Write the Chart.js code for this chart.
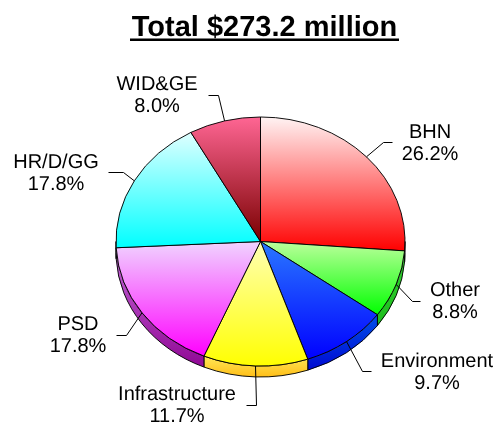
<!DOCTYPE html>
<html>
<head>
<meta charset="utf-8">
<title>Total $273.2 million</title>
<script src="https://cdn.jsdelivr.net/npm/chart.js@4/dist/chart.umd.min.js"></script>
<style>
html, body { margin: 0; padding: 0; background: #fff; }
#wrap { width: 495px; height: 423px; }
</style>
</head>
<body>
<div id="wrap"><canvas id="pie" width="495" height="423"></canvas></div>
<script>
const chartTitle = 'Total $273.2 million';
const categories = ['BHN', 'Other', 'Environment', 'Infrastructure', 'PSD', 'HR/D/GG', 'WID&GE'];
const shares = [26.2, 8.8, 9.7, 11.7, 17.8, 17.8, 8.0];

// face gradient top -> bottom, one per slice
const faceTop = ['#fff4f4', '#bcff9c', '#2a78ff', '#ffffb4', '#f0d4ff', '#e0ffff', '#ff6694'];
const faceBottom = ['#ff0000', '#00ff00', '#0000ff', '#ffff00', '#ff00ff', '#00ffff', '#7a0000'];
const sideTop = ['#e00000', '#30d030', '#0050e8', '#ffe858', '#c468d8', '#00c0c0', '#900000'];
const sideBottom = ['#c00000', '#10b010', '#0000d0', '#ffbe18', '#8c0090', '#00a0a0', '#700000'];

// label centre and first baseline, then leader elbow and end, in canvas pixels
const labelPos = [[430, 138], [455, 296], [437, 367], [177, 400], [78, 330], [56, 168], [157, 90]];
const leaderBend = [[383, 142], [412, 301], [362, 371], [256, 405], [126, 335], [123, 172], [218, 95]];
const leaderEnd = [[392, 142], [420, 301], [371, 371], [246, 405], [116, 335], [108, 172], [208, 95]];

const squash = 124.5 / 144.5; // pie lies tilted, so the circle is drawn flattened
const depth = 11; // thickness of the rim on screen
const font = '"Liberation Sans", Arial, sans-serif';

function sliceGradient(context) {
    const area = context.chart.chartArea;
    if (!area)
        return faceBottom[context.dataIndex];
    const i = context.dataIndex;
    const cx = (area.left + area.right) / 2, cy = (area.top + area.bottom) / 2;
    const r = Math.min(area.right - area.left, area.bottom - area.top) / 2;
    const total = shares.reduce((a, b) => a + b, 0);
    let before = 0;
    for (let k = 0; k < i; k++)
        before += shares[k];
    const a0 = before / total * Math.PI * 2, a1 = (before + shares[i]) / total * Math.PI * 2;
    // clock angles from 12 o'clock, y grows as -cos
    let ys = [cy, cy - r * Math.cos(a0), cy - r * Math.cos(a1)];
    if (a0 <= Math.PI && a1 >= Math.PI)
        ys.push(cy + r);
    if (a0 === 0 || a1 >= Math.PI * 2)
        ys.push(cy - r);
    const g = context.chart.ctx.createLinearGradient(0, Math.min(...ys), 0, Math.max(...ys));
    g.addColorStop(0, faceTop[i]);
    g.addColorStop(1, faceBottom[i]);
    return g;
}

const tiltPlugin = {
    id: 'tilt',
    beforeDatasetsDraw(chart) {
        const ctx = chart.ctx;
        const arcs = chart.getDatasetMeta(0).data;
        const cx = arcs[0].x, cy = arcs[0].y;
        ctx.save();
        ctx.translate(cx, cy);
        ctx.scale(1, squash);
        ctx.translate(-cx, -cy);
        const d = depth / squash;
        arcs.forEach((arc, i) => {
            const a = Math.max(arc.startAngle, 0), b = Math.min(arc.endAngle, Math.PI);
            if (b <= a)
                return;
            const r = arc.outerRadius;
            const top = cy + r * Math.min(Math.sin(a), Math.sin(b));
            const g = ctx.createLinearGradient(0, top, 0, cy + r + d);
            g.addColorStop(0, sideTop[i]);
            g.addColorStop(1, sideBottom[i]);
            ctx.beginPath();
            ctx.arc(cx, cy, r, a, b);
            ctx.arc(cx, cy + d, r, b, a, true);
            ctx.closePath();
            ctx.fillStyle = g;
            ctx.fill();
            ctx.lineWidth = 1;
            ctx.strokeStyle = '#000';
            ctx.stroke();
        });
    },
    afterDatasetsDraw(chart) {
        const ctx = chart.ctx;
        ctx.restore();
        const arcs = chart.getDatasetMeta(0).data;

        // leaders start on the rim of the face, at the middle of the slice
        ctx.strokeStyle = '#000';
        ctx.lineWidth = 1;
        arcs.forEach((arc, i) => {
            const mid = (arc.startAngle + arc.endAngle) / 2;
            ctx.beginPath();
            ctx.moveTo(arc.x + arc.outerRadius * Math.cos(mid), arc.y + arc.outerRadius * squash * Math.sin(mid));
            ctx.lineTo(leaderBend[i][0] + 0.5, leaderBend[i][1] + 0.5);
            ctx.lineTo(leaderEnd[i][0] + 0.5, leaderEnd[i][1] + 0.5);
            ctx.stroke();
        });

        ctx.fillStyle = '#000';
        ctx.textAlign = 'center';
        ctx.textBaseline = 'alphabetic';
        ctx.textRendering = 'geometricPrecision';
        ctx.font = '20px ' + font;
        categories.forEach((name, i) => {
            ctx.fillText(name, labelPos[i][0], labelPos[i][1]);
            ctx.fillText(shares[i].toFixed(1) + '%', labelPos[i][0], labelPos[i][1] + 22);
        });

        ctx.font = 'bold 29px ' + font;
        ctx.fillText(chartTitle, 264.5, 36);
        ctx.fillRect(130, 38.5, 269, 2.5);
    }
};

new Chart(document.getElementById('pie'), {
    type: 'pie',
    data: {
        labels: categories,
        datasets: [{
            data: shares,
            backgroundColor: sliceGradient,
            borderColor: '#000',
            borderWidth: 1,
            clip: false
        }]
    },
    options: {
        responsive: false,
        animation: false,
        layout: { padding: { left: 115.5, right: 89.5, top: 96.5, bottom: 36.5 } },
        plugins: {
            legend: { display: false },
            title: { display: false },
            tooltip: { enabled: false }
        }
    },
    plugins: [tiltPlugin]
});
</script>
</body>
</html>
